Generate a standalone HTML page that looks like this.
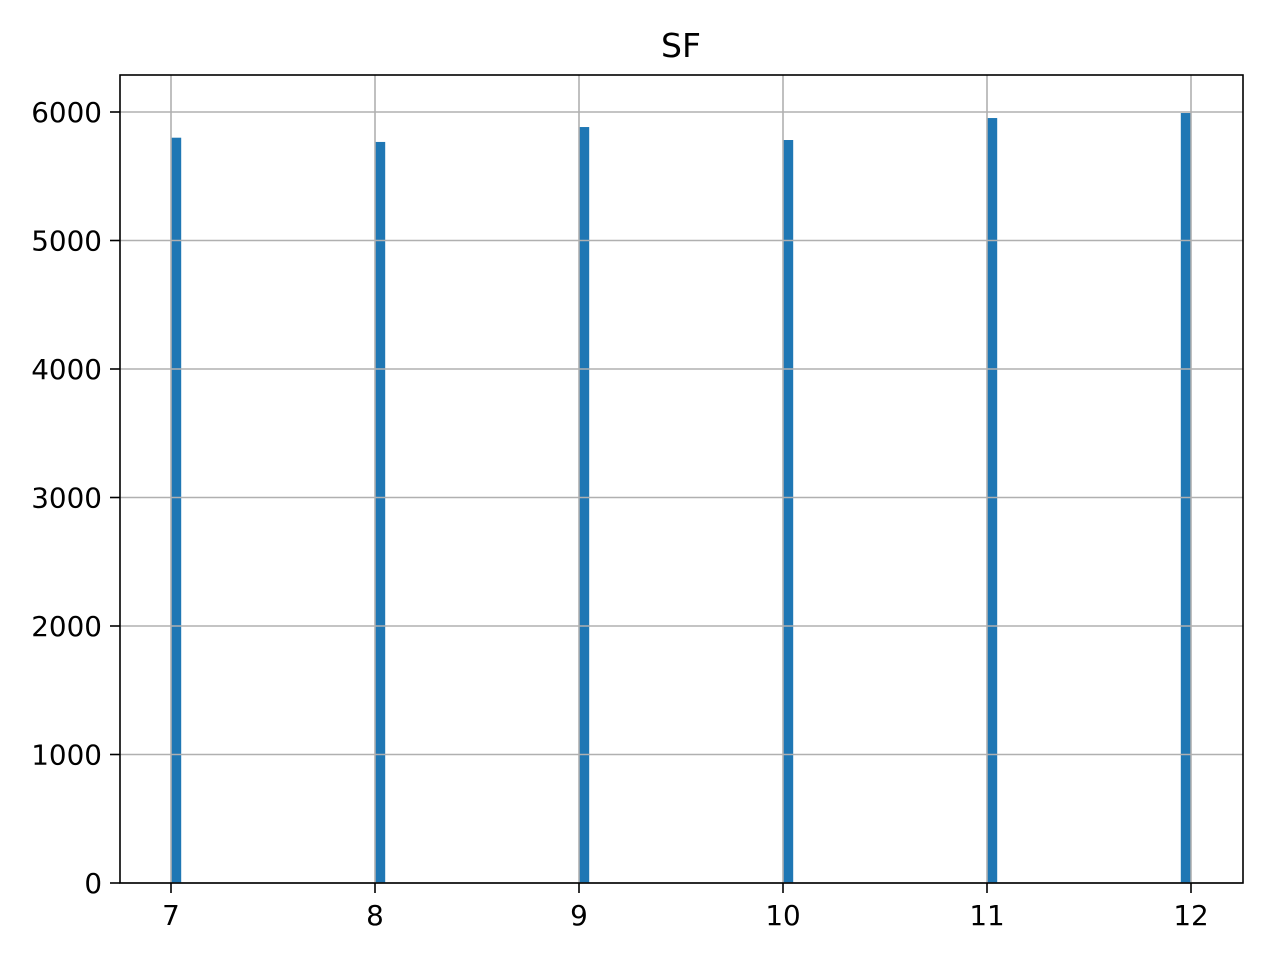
<!DOCTYPE html>
<html><head><meta charset="utf-8">
<style>
html,body{margin:0;padding:0;background:#fff;}
svg text{font-family:"DejaVu Sans","Liberation Sans",sans-serif;fill:#000;}
</style></head>
<body>
<svg id="chart" width="1280" height="960" xmlns="http://www.w3.org/2000/svg">
<rect x="0" y="0" width="1280" height="960" fill="#fff"/>
<text x="681" y="57" font-size="33" text-anchor="middle">SF</text>
<g id="bars"></g>
<g id="grid"></g>
<rect x="120" y="75" width="1123" height="808" fill="none" stroke="#000" stroke-width="1.6"/>
<g id="ticks"></g>
</svg>
<script>
const bins = [7, 8, 9, 10, 11, 11.95];
const counts = [5800, 5767, 5883, 5782, 5953, 5992];
const binWidth = 0.05;
const xTicks = [7, 8, 9, 10, 11, 12];
const yTicks = [0, 1000, 2000, 3000, 4000, 5000, 6000];

const NS = "http://www.w3.org/2000/svg";
const X = v => 171 + (v - 7) * 204;
const Y = v => 883 - v * 0.1285;
function mk(tag, attrs, parent){
  const e = document.createElementNS(NS, tag);
  for (const k in attrs) e.setAttribute(k, attrs[k]);
  parent.appendChild(e);
  return e;
}
const gb = document.getElementById('bars');
bins.forEach((b, i) => {
  const r = mk('rect', {x: X(b), y: Y(counts[i]), width: X(b + binWidth) - X(b), height: Y(0) - Y(counts[i]), fill: '#1f77b4'}, gb);
  
  
});
const gg = document.getElementById('grid');
const gt = document.getElementById('ticks');
xTicks.forEach(t => {
  const l = mk('line', {x1: X(t), x2: X(t), y1: 75, y2: 883, stroke: '#b0b0b0', 'stroke-width': 1.6}, gg);
  
  
  const tk = mk('line', {x1: X(t), x2: X(t), y1: 883, y2: 893, stroke: '#000', 'stroke-width': 1.6}, gt);
  
  
  const tx = mk('text', {x: X(t), y: 925, 'font-size': 27.8, 'text-anchor': 'middle'}, gt);
  tx.textContent = t;
  
  
});
yTicks.forEach(t => {
  const l = mk('line', {x1: 120, x2: 1243, y1: Y(t), y2: Y(t), stroke: '#b0b0b0', 'stroke-width': 1.6}, gg);
  
  
  const tk = mk('line', {x1: 110, x2: 120, y1: Y(t), y2: Y(t), stroke: '#000', 'stroke-width': 1.6}, gt);
  
  
  const tx = mk('text', {x: 102, y: Y(t) + 10, 'font-size': 27.8, 'text-anchor': 'end'}, gt);
  tx.textContent = t;
  
  
});
</script>
</body></html>
